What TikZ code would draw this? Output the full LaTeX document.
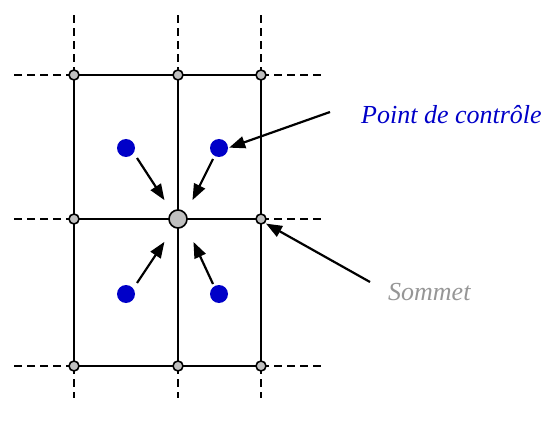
\documentclass[tikz,border=0pt]{standalone}
\usepackage{fontspec}
\setmainfont{Liberation Serif}
\usetikzlibrary{arrows.meta}
\definecolor{vgray}{RGB}{192,192,192}
\definecolor{cblue}{RGB}{0,0,200}
\definecolor{lgray}{RGB}{150,150,150}
\begin{document}
\begin{tikzpicture}[x=1pt,y=-1pt,
  vtx/.style={circle,draw=black,line width=1.6pt,fill=vgray,inner sep=0pt,minimum size=10pt},
  bigvtx/.style={vtx,minimum size=18pt},
  cpt/.style={circle,fill=cblue,inner sep=0pt,minimum size=18pt},
  gridline/.style={line width=2.2pt},
  ext/.style={line width=2.2pt,dash pattern=on 8pt off 5pt},
  ptr/.style={line width=2.2pt,-{Triangle[length=16pt,width=12pt]},shorten >=1pt},
  lbl/.style={font=\fontsize{26}{30}\selectfont\itshape,inner sep=0pt,anchor=base west}]
\useasboundingbox (0,0) rectangle (544,425);
% vertex positions
\coordinate (p11) at (74,75);  \coordinate (p12) at (178,75);  \coordinate (p13) at (261,75);
\coordinate (p21) at (74,219); \coordinate (p22) at (178,219); \coordinate (p23) at (261,219);
\coordinate (p31) at (74,366); \coordinate (p32) at (178,366); \coordinate (p33) at (261,366);
% dashed extensions
\coordinate (t1) at (74,13);  \coordinate (t2) at (178,13);  \coordinate (t3) at (261,13);
\coordinate (b1) at (74,398); \coordinate (b2) at (178,398); \coordinate (b3) at (261,398);
\coordinate (l1) at (12,75);  \coordinate (l2) at (12,219);  \coordinate (l3) at (12,366);
\coordinate (r1) at (322,75); \coordinate (r2) at (322,219); \coordinate (r3) at (322,366);
\foreach \i in {1,2,3} {
  \draw[ext] (p1\i) -- (t\i);
  \draw[ext] (p3\i) -- (b\i);
  \draw[ext] (p\i1) -- (l\i);
  \draw[ext] (p\i3) -- (r\i);
}
% solid grid
\foreach \i in {1,2,3} {
  \draw[gridline] (p\i1) -- (p\i3);
  \draw[gridline] (p1\i) -- (p3\i);
}
% vertices
\foreach \n in {p11,p12,p13,p21,p23,p31,p32,p33} { \node[vtx] (v\n) at (\n) {}; }
\node[bigvtx] (vp22) at (p22) {};
% control points
\node[cpt] (c1) at (126,148) {};
\node[cpt] (c2) at (219,148) {};
\node[cpt] (c3) at (126,294) {};
\node[cpt] (c4) at (219,294) {};
% arrows toward centre
\coordinate (a1s) at (137,158); \coordinate (a1e) at (165,201);
\coordinate (a2s) at (213,159); \coordinate (a2e) at (192,201);
\coordinate (a3s) at (137,283); \coordinate (a3e) at (165,241);
\coordinate (a4s) at (213,284); \coordinate (a4e) at (193,241);
\draw[ptr] (a1s) -- (a1e);
\draw[ptr] (a2s) -- (a2e);
\draw[ptr] (a3s) -- (a3e);
\draw[ptr] (a4s) -- (a4e);
% labels
\node[lbl,text=cblue] (lc) at (361,124) {Point de contrôle};
\node[lbl,text=lgray] (ls) at (388,300) {Sommet};
\coordinate (lcs) at (330,112);
\coordinate (lss) at (370,282);
\draw[ptr] (lcs) -- (c2.east);
\draw[ptr] (lss) -- (vp23.south east);
\end{tikzpicture}
\end{document}
